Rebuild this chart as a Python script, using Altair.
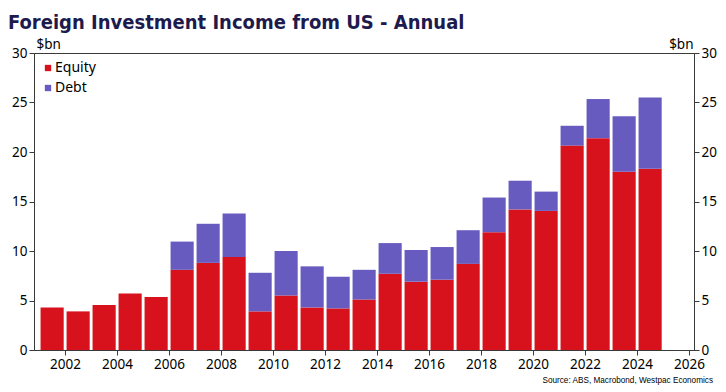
import altair as alt
import pandas as pd

years = list(range(2001, 2025))
equity = [4.3, 3.9, 4.55, 5.7, 5.35, 8.1, 8.8, 9.4, 3.9, 5.5, 4.3, 4.2, 5.1, 7.7,
          6.9, 7.1, 8.7, 11.9, 14.2, 14.05, 20.65, 21.4, 18.0, 18.3]
debt = [0, 0, 0, 0, 0, 2.85, 3.95, 4.4, 3.9, 4.5, 4.15, 3.2, 3.0, 3.1,
        3.2, 3.3, 3.4, 3.5, 2.9, 1.95, 2.0, 3.95, 5.6, 7.2]
series = ["Equity", "Debt"]
colors = ["#d7121c", "#675bbf"]
x_ticks = list(range(2002, 2027, 2))
y_ticks = [0, 5, 10, 15, 20, 25, 30]
title_text = "Foreign Investment Income from US - Annual"
source_text = "Source: ABS, Macrobond, Westpac Economics"

rows = []
for yr, e, d in zip(years, equity, debt):
    rows.append({"year": yr, "series": "Equity", "ord": 0, "value": e})
    rows.append({"year": yr, "series": "Debt", "ord": 1, "value": d})
df = pd.DataFrame(rows)

W, H = 660, 297
FONT = "Noto Sans"
AX = "#3a3a3a"

xscale = alt.Scale(domain=[2001, 2026], nice=False, zero=False)
yscale = alt.Scale(domain=[0, 30], nice=False)
xaxis = alt.Axis(values=x_ticks, format="d", title=None, grid=False, labelFlush=False)

base = alt.Chart(df).transform_calculate(
    x0="datum.year + 0.06", x1="datum.year + 0.95"
)

color = alt.Color(
    "series:N",
    scale=alt.Scale(domain=series, range=colors),
    legend=alt.Legend(
        title=None, orient="none", legendX=7, legendY=8,
        symbolType="square", symbolSize=40, symbolStrokeWidth=0,
        labelFont=FONT, labelFontSize=14, labelColor="black",
        rowPadding=6, labelOffset=0,
    ),
)

left = base.mark_bar().encode(
    x=alt.X("x0:Q", scale=xscale, axis=xaxis),
    x2="x1:Q",
    y=alt.Y("sum(value):Q", stack="zero", scale=yscale,
            axis=alt.Axis(orient="left", values=y_ticks, grid=False, title="$bn",
                          titleAngle=0, titleAlign="left", titleX=2, titleY=-5,
                          titleBaseline="alphabetic")),
    color=color,
    order=alt.Order("ord:Q", sort="ascending"),
)

right = base.mark_bar(opacity=0).encode(
    x=alt.X("x0:Q", scale=xscale, axis=xaxis),
    x2="x1:Q",
    y=alt.Y("sum(value):Q", stack="zero", scale=yscale,
            axis=alt.Axis(orient="right", values=y_ticks, grid=False, title="$bn",
                          titleAngle=0, titleAlign="right", titleX=-1, titleY=-5,
                          titleBaseline="alphabetic")),
    order=alt.Order("ord:Q", sort="ascending"),
)

src = alt.Chart(pd.DataFrame({"t": [source_text]})).mark_text(
    align="right", baseline="middle", font="Liberation Sans", fontSize=8.2,
    color="black"
).encode(text="t:N", x=alt.value(679), y=alt.value(328))

chart = alt.layer(left, right, src).resolve_scale(y="independent").properties(
    width=W, height=H,
    title=alt.TitleParams(title_text, anchor="start", frame="group", dx=-26,
                          offset=4, font="DejaVu Sans Condensed, DejaVu Sans, sans-serif",
                          fontSize=20, fontWeight="bold", color="#1d1b4d"),
    autosize=alt.AutoSizeParams(type="none"),
    padding={"left": 26, "top": 45, "right": 24, "bottom": 36},
).configure_view(stroke=AX, strokeWidth=1).configure_axis(
    domainColor=AX, tickColor=AX, labelColor="black", labelFont=FONT,
    labelFontSize=13.5, tickSize=5, labelPadding=2, titleFont=FONT,
    titleFontSize=13.5, titleFontWeight="normal", titleColor="black",
)

chart.save("out.html", embed_options={"renderer": "svg", "actions": False})
